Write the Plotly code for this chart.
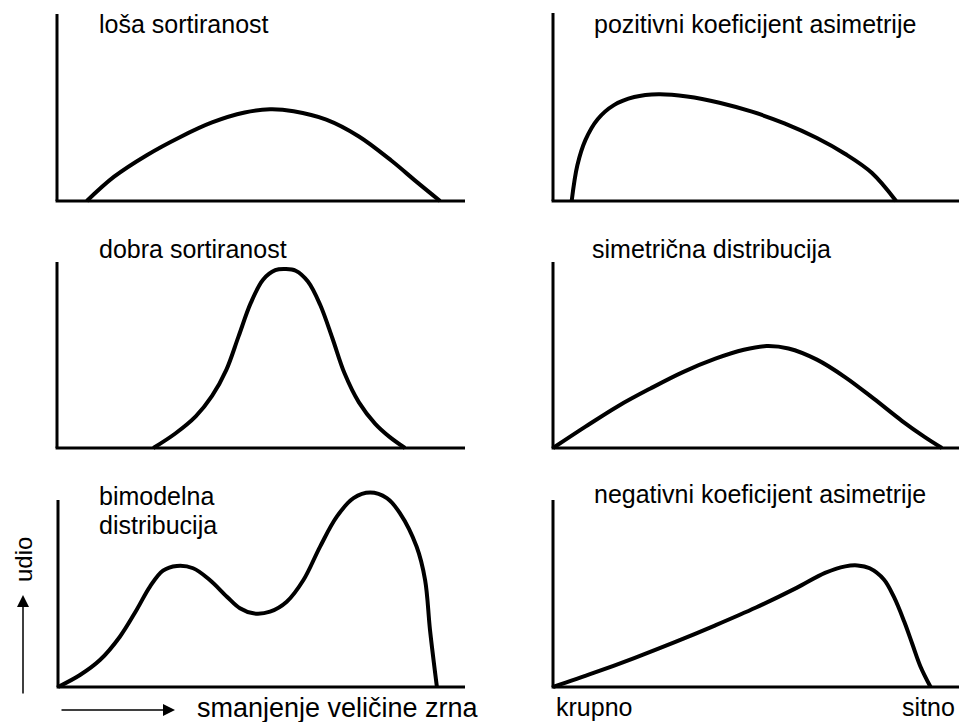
import plotly.graph_objects as go

W, H = 959, 722

# ---- curve data: x = position on the grain-size scale (0-100), y = share (0-100) ----
losa_x = [7.3, 14.0, 22.0, 30.0, 38.0, 46.0, 52.2, 58.0, 66.0, 74.0, 82.0, 88.0, 93.9]
losa_y = [0, 13.0, 24.5, 34.0, 42.0, 47.3, 49.0, 48.0, 43.5, 34.5, 21.5, 10.5, 0]

poz_x = [4.6, 6.0, 8.0, 11.0, 15.0, 20.0, 26.0, 33.0, 41.0, 49.0, 57.0, 65.0, 72.0, 78.5, 84.5]
poz_y = [0, 19.0, 32.5, 43.5, 51.0, 55.3, 56.8, 55.6, 52.3, 47.5, 41.3, 33.5, 25.0, 15.0, 0]

dobra_x = [23.6, 29.0, 34.0, 38.0, 41.5, 44.5, 47.5, 50.5, 53.5, 56.0, 58.5, 61.5, 64.5, 67.5, 70.5, 74.0, 78.0, 81.5, 85.3]
dobra_y = [0, 7.8, 17.0, 28.0, 42.0, 60.0, 78.0, 90.5, 95.6, 96.2, 95.3, 89.5, 77.0, 59.0, 40.0, 24.5, 13.0, 6.0, 0]

sim_x = [0, 8.0, 16.0, 24.0, 32.0, 40.0, 47.0, 52.6, 58.0, 65.0, 72.0, 79.0, 86.0, 91.5, 95.8]
sim_y = [0, 11.5, 22.5, 32.0, 40.8, 48.0, 52.8, 54.8, 53.5, 47.5, 38.0, 26.5, 14.5, 6.0, 0]

bim_x = [0, 5.4, 10.3, 15.2, 19.3, 22.6, 25.8, 29.2, 33.2, 37.3, 41.5, 44.7, 48.0,
         52.1, 56.2, 60.3, 64.4, 68.5, 72.6, 76.7, 80.8, 84.0, 88.1, 90.2, 91.4, 93.1]
bim_y = [0, 6.4, 14.4, 26.9, 41.2, 53.7, 62.2, 64.7, 63.5, 57.2, 48.3, 42.1, 39.4,
         40.3, 45.6, 57.2, 75.1, 91.1, 101.0, 104.0, 101.0, 93.0, 75.1, 57.2, 30.5, 0]

neg_x = [0, 10.0, 20.0, 30.0, 40.0, 50.0, 60.0, 67.0, 72.0, 75.0, 78.0, 81.5, 84.0, 86.5, 88.5, 90.5, 93.0]
neg_y = [0, 7.5, 15.5, 24.0, 33.0, 42.5, 53.0, 61.0, 64.5, 65.0, 63.5, 57.5, 48.0, 35.0, 23.0, 11.0, 0]

titles = ["loša sortiranost", "pozitivni koeficijent asimetrije",
          "dobra sortiranost", "simetrična distribucija",
          "bimodelna|distribucija", "negativni koeficijent asimetrije"]
curves = [(losa_x, losa_y), (poz_x, poz_y), (dobra_x, dobra_y),
          (sim_x, sim_y), (bim_x, bim_y), (neg_x, neg_y)]

# ---- panel frames in pixels: origin x, right end, origin y, top of the y line ----
frames = [(57, 465, 201, 14), (553, 959, 201, 13),
          (57, 465, 448, 262), (553, 959, 448, 262),
          (58, 465, 687, 500), (553, 959, 687, 500)]
ymax = [100, 100, 100, 100, 110, 100]
title_pos = [(97, 24.5), (592, 24.5), (97, 249.5), (590, 249.5), (97, 495.5), (592, 493.5)]

PAD = 3
FONT = "Arial, Liberation Sans, sans-serif"

fig = go.Figure()
shapes, annotations = [], []
layout_axes = {}

for i, ((cx, cy), (ox, rx, oy, ty), ym, title, (tx, tyc)) in enumerate(
        zip(curves, frames, ymax, titles, title_pos)):
    n = i + 1
    xa = "x" if n == 1 else f"x{n}"
    ya = "y" if n == 1 else f"y{n}"
    sx = (rx - ox) / 100.0
    sy = (oy - ty) / 100.0
    dom_x = [max(0, (ox - PAD * sx) / W), min(1, rx / W)]
    dom_y = [(H - (oy + PAD * sy)) / H, min(1, (H - (oy - ym * sy)) / H)]
    common = dict(showgrid=False, zeroline=False, showticklabels=False,
                  ticks="", showline=False, fixedrange=True)
    layout_axes["xaxis" if n == 1 else f"xaxis{n}"] = dict(
        domain=dom_x, range=[-PAD, 100], anchor=ya, **common)
    layout_axes["yaxis" if n == 1 else f"yaxis{n}"] = dict(
        domain=dom_y, range=[-PAD, ym], anchor=xa, **common)

    fig.add_trace(go.Scatter(
        x=cx, y=cy, xaxis=xa, yaxis=ya, mode="lines",
        line=dict(color="black", width=4, shape="spline", smoothing=1.0),
        hoverinfo="skip", showlegend=False))

    # axis frame: baseline and vertical line
    shapes.append(dict(type="line", xref=xa, yref=ya, x0=-0.35, x1=100, y0=0, y1=0,
                       line=dict(color="black", width=3)))
    shapes.append(dict(type="line", xref=xa, yref=ya, x0=0, x1=0, y0=0, y1=100,
                       line=dict(color="black", width=3)))

    for k, line in enumerate(title.split("|")):
        annotations.append(dict(
            text=line, xref="paper", yref="paper", x=tx / W, y=1 - (tyc + 29 * k) / H,
            xanchor="left", yanchor="middle", showarrow=False,
            font=dict(family=FONT, size=25, color="black")))

# scale labels and axis arrows
annotations += [
    dict(text="smanjenje veličine zrna", xref="paper", yref="paper",
         x=195 / W, y=1 - 708 / H, xanchor="left", yanchor="middle", showarrow=False,
         font=dict(family=FONT, size=27, color="black")),
    dict(text="krupno", xref="paper", yref="paper", x=554 / W, y=1 - 706.5 / H,
         xanchor="left", yanchor="middle", showarrow=False,
         font=dict(family=FONT, size=25, color="black")),
    dict(text="sitno", xref="paper", yref="paper", x=957 / W, y=1 - 706.5 / H,
         xanchor="right", yanchor="middle", showarrow=False,
         font=dict(family=FONT, size=25, color="black")),
    dict(text="udio", xref="paper", yref="paper", x=23 / W, y=1 - 560 / H,
         xanchor="center", yanchor="middle", textangle=-90, showarrow=False,
         font=dict(family=FONT, size=24, color="black")),
    dict(text="", xref="paper", yref="paper", x=23 / W, y=1 - 595 / H,
         ax=0, ay=100, showarrow=True, arrowhead=2, arrowsize=1.6,
         arrowwidth=1.5, arrowcolor="black", standoff=0),
    dict(text="", xref="paper", yref="paper", x=175 / W, y=1 - 710 / H,
         ax=-115, ay=0, showarrow=True, arrowhead=2, arrowsize=1.6,
         arrowwidth=1.5, arrowcolor="black", standoff=0),
]

fig.update_layout(
    width=W, height=H, margin=dict(l=0, r=0, t=0, b=0),
    paper_bgcolor="white", plot_bgcolor="white",
    shapes=shapes, annotations=annotations, **layout_axes)

fig.write_html("out.html", config={"displayModeBar": False})
